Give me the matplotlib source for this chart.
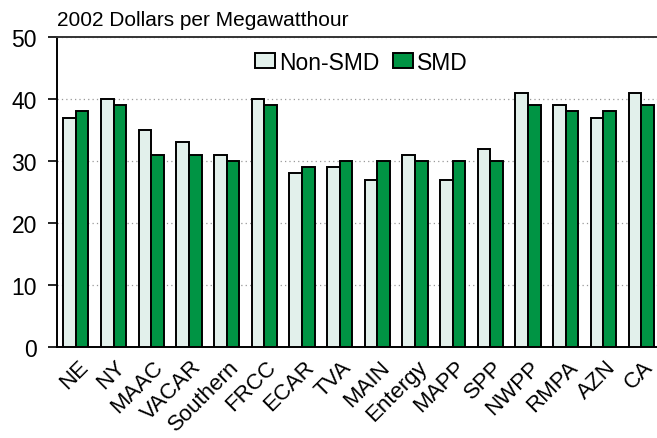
import matplotlib
matplotlib.use("Agg")
import matplotlib.pyplot as plt
import matplotlib.transforms as mtransforms
import numpy as np

regions = ["NE", "NY", "MAAC", "VACAR", "Southern", "FRCC", "ECAR", "TVA", "MAIN",
           "Entergy", "MAPP", "SPP", "NWPP", "RMPA", "AZN", "CA"]
non_smd = [37, 40, 35, 33, 31, 40, 28, 29, 27, 31, 27, 32, 41, 39, 37, 41]
smd = [38, 39, 31, 31, 30, 39, 29, 30, 30, 30, 30, 30, 39, 38, 38, 39]
yticks = [0, 10, 20, 30, 40, 50]

plt.rcParams['font.family'] = ['Liberation Sans', 'DejaVu Sans']

fig = plt.figure(figsize=(6.57, 4.39), dpi=100)
ax = fig.add_axes([57/657, 1 - 348/439, 603/657, 310/439])

x = np.arange(len(regions))
w = 0.335
ax.bar(x - w/2, non_smd, w, color='#e2f0eb', edgecolor='black', linewidth=1.4, label='Non-SMD', zorder=3)
ax.bar(x + w/2, smd, w, color='#009444', edgecolor='black', linewidth=1.4, label='SMD', zorder=3)

ax.set_xlim(-0.5, len(regions) - 0.5)
ax.set_ylim(0, 50)
ax.set_yticks(yticks)
ax.tick_params(axis='y', labelsize=16.5, length=6.5, width=1.2, direction='out', pad=8)
ax.tick_params(axis='x', length=0, labelsize=16, pad=6.5)
ax.set_xticks(x)
ax.set_xticklabels(regions, rotation=45, ha='right', va='top', rotation_mode='anchor')
offset = mtransforms.ScaledTranslation(1.5/100, 0, fig.dpi_scale_trans)
for lbl in ax.get_xticklabels():
    lbl.set_transform(lbl.get_transform() + offset)
ax.yaxis.grid(True, linestyle=(0, (1, 2.5)), color='#999999', linewidth=0.9, zorder=0)
ax.set_axisbelow(True)
ax.spines['right'].set_visible(False)
ax.spines['top'].set_linewidth(1.4)
ax.spines['top'].set_color('#333333')
ax.spines['left'].set_linewidth(1.4)
ax.spines['bottom'].set_linewidth(1.4)

ax.legend(loc='upper center', bbox_to_anchor=(0.505, 1.0), ncol=2, frameon=False,
          fontsize=16.5, handlelength=0.87, handleheight=0.6, handletextpad=0.17,
          columnspacing=0.6, borderaxespad=0.2)

fig.text(57/657, 1 - 21/439, "2002 Dollars per Megawatthour", fontsize=15, va='center', ha='left')

fig.savefig("out.png", dpi=100)
